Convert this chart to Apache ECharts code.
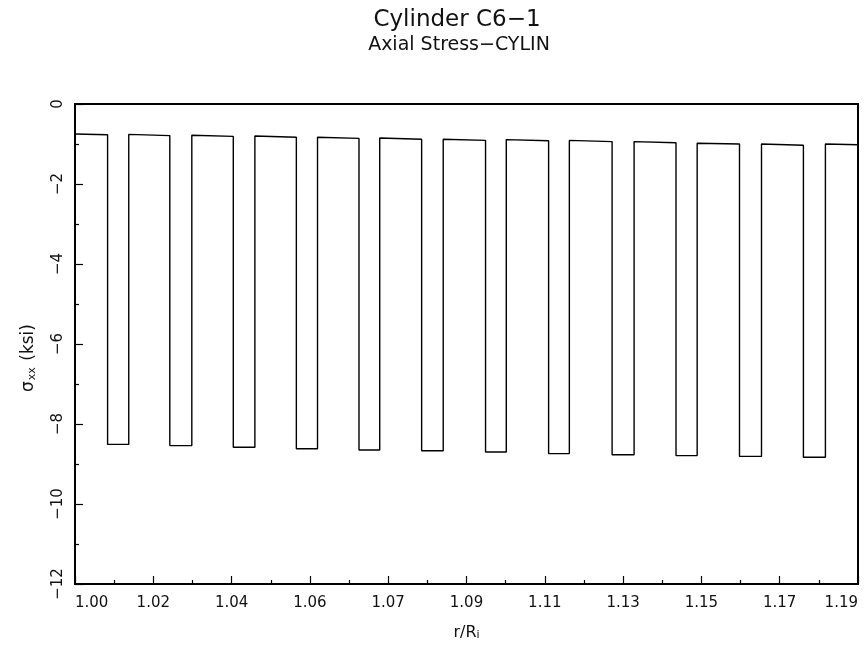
<!DOCTYPE html>
<html>
<head>
<meta charset="utf-8">
<title>Cylinder C6-1 Axial Stress</title>
<script src="https://cdn.jsdelivr.net/npm/echarts@6/dist/echarts.min.js"></script>
<style>
  html, body { margin: 0; padding: 0; background: #fff; }
  #chart { width: 864px; height: 655px; }
</style>
</head>
<body>
<div id="chart"></div>
<script>
// Radial extent of the cylinder wall (r/Ri) and tick spacing
const xMin = 1.0;
const xMax = 1.185;
const xInterval = 0.0185;
const xTickLabels = ['1.00', '1.02', '1.04', '1.06', '1.07', '1.09', '1.11', '1.13', '1.15', '1.17', '1.19'];
const yTickLabels = ['\u221212', '\u221210', '\u22128', '\u22126', '\u22124', '\u22122', '0'];

// Layer interfaces: where the stress drops into a stiff layer and rises back out
const dropAt = [1.0077, 1.0224, 1.0374, 1.0523, 1.0671, 1.0819, 1.0970, 1.1119, 1.1269, 1.1420, 1.1570, 1.1721];
const riseAt = [1.0127, 1.0276, 1.0425, 1.0573, 1.0720, 1.0870, 1.1019, 1.1168, 1.1321, 1.1470, 1.1622, 1.1773];

// Axial stress (ksi) in the soft layers, at the start and end of each layer
const topStart = [-0.75, -0.76, -0.78, -0.80, -0.83, -0.85, -0.88, -0.89, -0.91, -0.94, -0.98, -1.00, -1.00];
const topEnd   = [-0.77, -0.79, -0.81, -0.83, -0.86, -0.88, -0.91, -0.92, -0.94, -0.97, -1.00, -1.03, -1.02];
// Axial stress (ksi) in the stiff layers
const bottomLevel = [-8.51, -8.54, -8.58, -8.62, -8.65, -8.67, -8.70, -8.74, -8.77, -8.79, -8.81, -8.83];

// Stepped through-thickness profile
const profile = [[xMin, topStart[0]]];
for (let i = 0; i < dropAt.length; i++) {
  profile.push([dropAt[i], topEnd[i]]);
  profile.push([dropAt[i], bottomLevel[i]]);
  profile.push([riseAt[i], bottomLevel[i]]);
  profile.push([riseAt[i], topStart[i + 1]]);
}
profile.push([xMax, topEnd[topEnd.length - 1]]);

const FONT = '"DejaVu Sans", "Liberation Sans", sans-serif';
const INK = '#111';

const chart = echarts.init(document.getElementById('chart'), null, { renderer: 'canvas' });
chart.setOption({
  animation: false,
  backgroundColor: '#fff',
  title: [
    {
      text: 'Cylinder C6\u22121',
      left: 452, top: 4, textAlign: 'center',
      textStyle: { fontFamily: FONT, fontSize: 23, fontWeight: 'normal', color: INK }
    },
    {
      text: 'Axial Stress\u2212CYLIN',
      left: 454, top: 31, textAlign: 'center',
      textStyle: { fontFamily: FONT, fontSize: 19, fontWeight: 'normal', color: INK }
    }
  ],
  grid: {
    left: 75, right: 6, top: 104, bottom: 71,
    show: true, borderColor: '#000', borderWidth: 2,
    outerBoundsMode: 'none'
  },
  xAxis: {
    type: 'value',
    min: xMin, max: xMax, interval: xInterval,
    name: 'r/R{sub|i}',
    nameLocation: 'middle',
    nameGap: 40,
    nameTextStyle: {
      fontFamily: FONT, fontSize: 16, color: INK,
      rich: { sub: { fontFamily: FONT, fontSize: 11, color: INK, verticalAlign: 'bottom', padding: [6, 0, 0, 0] } }
    },
    axisLine: { show: true, onZero: false, lineStyle: { color: '#000', width: 2 } },
    axisTick: { show: true, inside: true, length: 8, lineStyle: { color: '#000', width: 1.2 } },
    minorTick: { show: true, splitNumber: 2, length: 4, lineStyle: { color: '#000', width: 1.2 } },
    splitLine: { show: false },
    axisLabel: {
      margin: 12,
      fontFamily: FONT, fontSize: 15, color: INK,
      alignMinLabel: 'left', alignMaxLabel: 'right',
      formatter: (v, i) => xTickLabels[i] !== undefined ? xTickLabels[i] : v.toFixed(2)
    }
  },
  yAxis: {
    type: 'value',
    min: -12, max: 0, interval: 2,
    name: '{g|\u03c3}{sub|xx}{g| (ksi)}',
    nameLocation: 'middle',
    nameRotate: 90,
    nameGap: 37,
    nameTextStyle: {
      fontFamily: FONT, fontSize: 17, color: INK,
      padding: [0, 28, 0, 0],
      rich: {
        g: { fontFamily: FONT, fontSize: 17, color: INK },
        sub: { fontFamily: FONT, fontSize: 11, color: INK, verticalAlign: 'bottom', padding: [7, 1, 0, 1] }
      }
    },
    axisLine: { show: true, onZero: false, lineStyle: { color: '#000', width: 2 } },
    axisTick: { show: true, inside: true, length: 8, lineStyle: { color: '#000', width: 1.2 } },
    minorTick: { show: true, splitNumber: 2, length: 4, lineStyle: { color: '#000', width: 1.2 } },
    splitLine: { show: false },
    axisLabel: {
      rotate: 90,
      margin: 9,
      fontFamily: FONT, fontSize: 15, color: INK,
      formatter: (v, i) => yTickLabels[i] !== undefined ? yTickLabels[i] : String(v)
    }
  },
  series: [
    {
      type: 'line',
      data: profile,
      symbol: 'none',
      lineStyle: { color: '#000', width: 1.4 },
      silent: true
    }
  ]
});
</script>
</body>
</html>
